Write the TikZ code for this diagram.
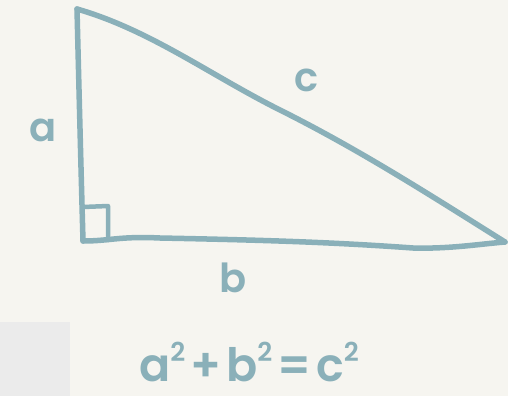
\documentclass[tikz,border=0pt]{standalone}
\usepackage{fontspec}
\setmainfont{Poppins}
\newfontfamily\semifont{Poppins SemiBold}
\definecolor{bgc}{HTML}{F6F5F0}
\definecolor{ink}{HTML}{8AB0B9}
\definecolor{panel}{HTML}{EBEBEB}
\newcommand\sqtwo{\raisebox{0.45em}{\fontsize{26}{26}\selectfont 2}}
\begin{document}
\begin{tikzpicture}[x=1pt,y=-1pt,
  edge/.style={draw=ink,line width=5.5pt,line cap=round,line join=round},
  lbl/.style={text=ink,font=\fontsize{40}{40}\selectfont\semifont,inner sep=0pt},
  eqn/.style={text=ink,font=\fontsize{46}{46}\selectfont\semifont,inner sep=0pt}]
\useasboundingbox (0,0) rectangle (508,396);
\fill[bgc] (0,0) rectangle (508,396);
\fill[panel] (0,322) rectangle (70,396);
\coordinate (A) at (77,9);
\coordinate (B) at (83,241);
\coordinate (C) at (505,242);
\draw[edge] (A) .. controls (79,90) and (81,170) .. (B);
\draw[edge] (A) .. controls (150,30) and (210,75) .. (280,110)
  .. controls (360,150) and (430,195) .. (C);
\draw[edge] (B) .. controls (110,241) and (120,236) .. (160,238)
  .. controls (260,240) and (330,242) .. (413,248)
  .. controls (450,249) and (480,244) .. (C);
\coordinate (R1) at (83,207);
\coordinate (R2) at (108,206);
\coordinate (R3) at (108,240);
\draw[edge,line width=4.5pt] (R1) -- (R2) -- (R3);
\node[lbl] (la) at (43,130) {a};
\node[lbl] (lc) at (307,80) {c};
\node[lbl] (lb) at (233,278) {b};
\node[eqn] (eq) at (249,362) {a\sqtwo\hspace{5pt}+\hspace{5pt}b\sqtwo\hspace{5pt}=\hspace{5pt}c\sqtwo};
\end{tikzpicture}
\end{document}
